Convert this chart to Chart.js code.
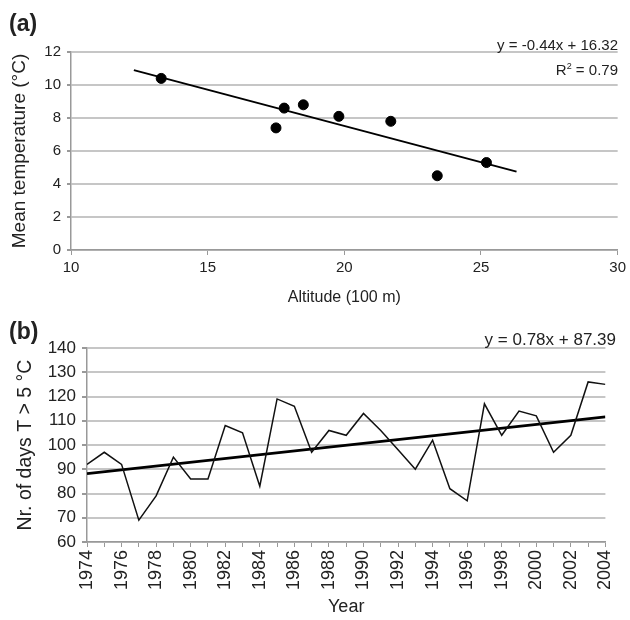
<!DOCTYPE html>
<html>
<head>
<meta charset="utf-8">
<script src="https://cdn.jsdelivr.net/npm/chart.js@4.4.0/dist/chart.umd.min.js"></script>
<style>
  body { margin: 0; background: #fff; font-family: "Liberation Sans", Arial, sans-serif; color: #222; }
  #wrap { position: relative; width: 630px; height: 620px; }
  .box { position: absolute; left: 0; width: 630px; height: 310px; }
  .lbl { position: absolute; left: 9px; font-weight: bold; font-size: 23px; }
  .eq { position: absolute; right: 12px; text-align: right; line-height: 1; white-space: nowrap; }
</style>
</head>
<body>
<div id="wrap">
  <div class="box" style="top:0"><canvas id="chartA" width="630" height="310"></canvas></div>
  <div class="box" style="top:310px"><canvas id="chartB" width="630" height="310"></canvas></div>
  <div class="lbl" style="top:10px">(a)</div>
  <div class="lbl" style="top:318px">(b)</div>
  <div class="eq" style="top:37px;font-size:15px">y = -0.44x + 16.32</div>
  <div class="eq" style="top:62px;font-size:15px">R<sup style="font-size:9px">2</sup> = 0.79</div>
  <div class="eq" style="top:331px;font-size:17px;right:14px">y = 0.78x + 87.39</div>
</div>
<script>
// (a) altitude vs mean temperature
const altitude = [13.3, 17.5, 17.8, 18.5, 19.8, 21.7, 23.4, 25.2];
const meanTemp = [10.4, 7.4, 8.6, 8.8, 8.1, 7.8, 4.5, 5.3];
const trendAx = [12.3, 26.3];
const trendAy = [10.9, 4.75];

// (b) number of days above 5 °C per year
const years = [1974, 1975, 1976, 1977, 1978, 1979, 1980, 1981, 1982, 1983, 1984,
  1985, 1986, 1987, 1988, 1989, 1990, 1991, 1992, 1993, 1994, 1995, 1996,
  1997, 1998, 1999, 2000, 2001, 2002, 2003, 2004];
const daysAbove5 = [92, 97, 92, 69, 79, 95, 86, 86, 108, 105, 83,
  119, 116, 97, 106, 104, 113, 106, 98, 90, 102, 82, 77,
  117, 104, 114, 112, 97, 104, 126, 125];
const trendBx = [1974, 2004];
const trendBy = [88.2, 111.6];

const txt = '#222';
const axisCol = '#999';
const gridCol = '#c6c6c6';
Chart.defaults.font.family = '"Liberation Sans", Arial, sans-serif';
Chart.defaults.color = txt;

function pts(xs, ys) {
  return xs.map((x, i) => ({ x: x, y: ys[i] }));
}

new Chart(document.getElementById('chartA'), {
  type: 'scatter',
  data: {
    datasets: [{
      data: pts(altitude, meanTemp),
      backgroundColor: '#000',
      borderColor: '#000',
      pointRadius: 5
    }, {
      data: pts(trendAx, trendAy),
      showLine: true,
      borderColor: '#000',
      borderWidth: 2,
      pointRadius: 0
    }]
  },
  options: {
    responsive: false,
    animation: false,
    layout: { padding: { top: 52, right: 8, left: 0, bottom: 0 } },
    plugins: { legend: { display: false }, tooltip: { enabled: false } },
    scales: {
      x: {
        type: 'linear', min: 10, max: 30,
        ticks: { stepSize: 5, font: { size: 15 }, padding: 4 },
        grid: { drawOnChartArea: false, tickLength: 5, color: axisCol },
        border: { color: axisCol, width: 1.5 },
        title: { display: true, text: 'Altitude (100 m)', font: { size: 16 }, padding: { top: 0, bottom: 3 } },
        afterFit: s => { s.height = 60; }
      },
      y: {
        min: 0, max: 12,
        ticks: { stepSize: 2, font: { size: 15 }, padding: 6 },
        grid: { color: gridCol, lineWidth: 2, tickLength: 4, tickColor: axisCol },
        border: { color: axisCol, width: 1.5 },
        title: { display: true, text: 'Mean temperature (°C)', font: { size: 19 }, padding: { top: 8, bottom: 0 } },
        afterFit: s => { s.width = 71; }
      }
    }
  }
});

new Chart(document.getElementById('chartB'), {
  type: 'scatter',
  data: {
    datasets: [{
      data: pts(years, daysAbove5),
      showLine: true,
      borderColor: '#111',
      borderWidth: 1.5,
      tension: 0,
      pointRadius: 0
    }, {
      data: pts(trendBx, trendBy),
      showLine: true,
      borderColor: '#000',
      borderWidth: 2.8,
      pointRadius: 0
    }]
  },
  options: {
    responsive: false,
    animation: false,
    layout: { padding: { top: 38, right: 8, left: 0, bottom: 0 } },
    plugins: { legend: { display: false }, tooltip: { enabled: false } },
    scales: {
      x: {
        type: 'linear', min: 1974, max: 2004,
        ticks: {
          stepSize: 1, maxTicksLimit: 40, autoSkip: false,
          minRotation: 90, maxRotation: 90,
          font: { size: 18 }, padding: 3,
          callback: v => (v % 2 === 0 ? String(v) : '')
        },
        grid: { drawOnChartArea: false, tickLength: 5, color: axisCol },
        border: { color: axisCol, width: 1.5 },
        title: { display: true, text: 'Year', font: { size: 18 }, padding: { top: 0, bottom: 2 } },
        afterFit: s => { s.height = 78; }
      },
      y: {
        min: 60, max: 140,
        ticks: { stepSize: 10, font: { size: 17 }, padding: 6 },
        grid: { color: gridCol, lineWidth: 2, tickLength: 5, tickColor: axisCol },
        border: { color: axisCol, width: 1.5 },
        title: { display: true, text: 'Nr. of days T > 5 °C', font: { size: 19.5 }, padding: { top: 14, bottom: 0 } },
        afterFit: s => { s.width = 87; }
      }
    }
  }
});
</script>
</body>
</html>
